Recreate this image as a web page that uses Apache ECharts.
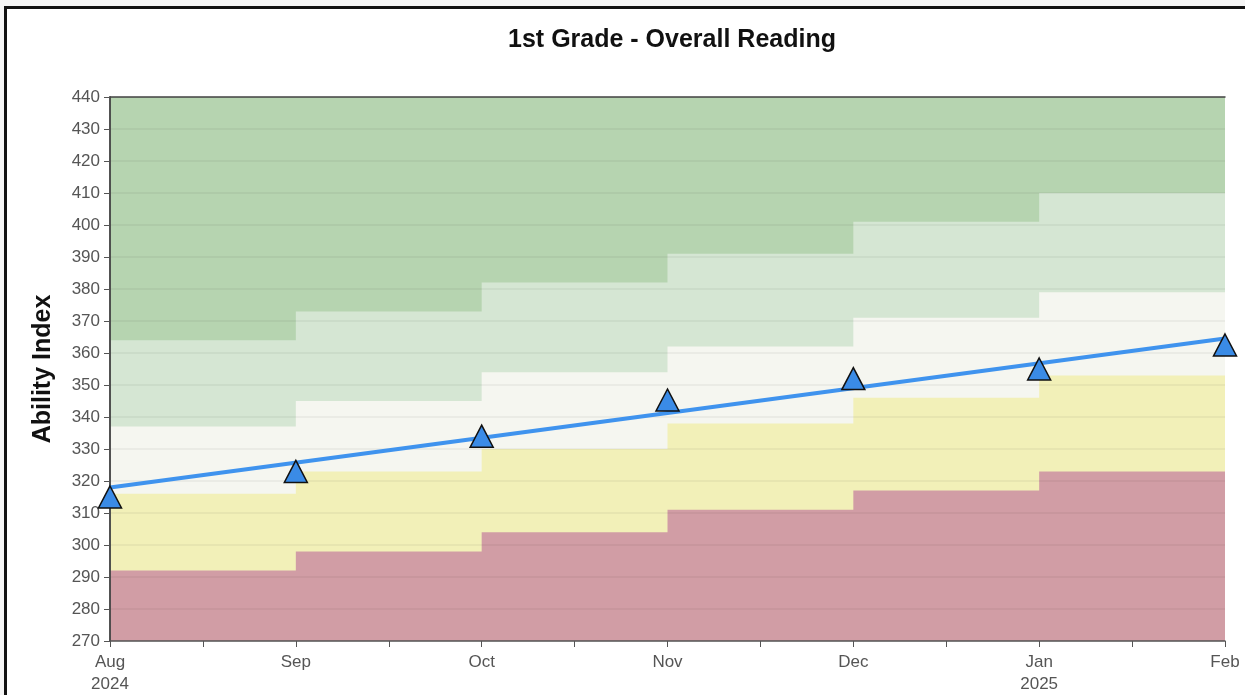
<!DOCTYPE html>
<html>
<head>
<meta charset="utf-8">
<script src="https://cdn.jsdelivr.net/npm/echarts@6/dist/echarts.min.js"></script>
<style>
html,body{margin:0;padding:0;background:#f4f4f4;}
#wrap{position:absolute;left:4px;top:6px;width:1260px;height:710px;border:3px solid #111;background:#fff;}
#chart{position:absolute;left:0;top:0;width:1245px;height:695px;}
</style>
</head>
<body>
<div id="wrap"></div>
<div id="chart"></div>
<script>
const titleText = '1st Grade - Overall Reading';
const yAxisTitle = 'Ability Index';
const months = ['Aug', 'Sep', 'Oct', 'Nov', 'Dec', 'Jan', 'Feb'];
const years = ['2024', '', '', '', '', '2025', ''];
// band top boundaries for each month interval (Aug-Sep ... Jan-Feb)
const redTop = [292, 298, 304, 311, 317, 323];
const yellowTop = [316, 323, 330, 338, 346, 353];
const whiteTop = [337, 345, 354, 362, 371, 379];
const lightGreenTop = [364, 373, 382, 391, 401, 410];
const yMin = 270, yMax = 440, yStep = 10;
const scores = [315, 323, 334, 345.3, 352, 355, 362.5];
const trendStart = 318, trendEnd = 364.5;

function stepData(arr) {
  const d = arr.map((v, i) => [i, v]);
  d.push([arr.length, arr[arr.length - 1]]);
  return d;
}
function band(name, arr, color) {
  return {
    name: name, type: 'line', step: 'end', data: stepData(arr),
    showSymbol: false, symbol: 'none', silent: true, z: 2,
    lineStyle: { width: 0, color: color },
    areaStyle: { color: color, opacity: 1, origin: 'start' }
  };
}
const FONT = 'Liberation Sans, Arial';

const chart = echarts.init(document.getElementById('chart'));
chart.setOption({
  animation: false,
  backgroundColor: 'transparent',
  title: {
    text: titleText, left: 667, top: 23, textAlign: 'center',
    textStyle: { fontFamily: FONT, fontSize: 25, fontWeight: 'bold', color: '#111' }
  },
  grid: { left: 110, right: 20, top: 97, bottom: 54, show: true, backgroundColor: '#b6d4b0', borderWidth: 0 },
  xAxis: [{
    type: 'value', min: 0, max: months.length - 1, interval: 0.5, z: 3,
    axisLine: { show: true, lineStyle: { color: '#555', width: 1.5 } },
    axisTick: { show: true, length: 6, lineStyle: { color: '#555' } },
    splitLine: { show: false },
    axisLabel: {
      color: '#555', fontFamily: FONT, fontSize: 17, lineHeight: 22, margin: 10,
      formatter: function (v) {
        if (Math.abs(v - Math.round(v)) > 1e-6) return '';
        const i = Math.round(v);
        return months[i] + (years[i] ? '\n' + years[i] : '');
      }
    }
  }, {
    type: 'value', position: 'top', min: 0, max: months.length - 1, z: 3,
    axisLine: { show: true, lineStyle: { color: '#444', width: 1.5 } },
    axisTick: { show: false }, axisLabel: { show: false }, splitLine: { show: false }
  }],
  yAxis: [{
    type: 'value', min: yMin, max: yMax, interval: yStep, z: 3,
    name: yAxisTitle, nameLocation: 'middle', nameGap: 54, nameRotate: 90,
    nameTextStyle: { fontFamily: FONT, fontSize: 25, fontWeight: 'bold', color: '#111' },
    axisLine: { show: true, lineStyle: { color: '#555', width: 1.5 } },
    axisTick: { show: true, length: 6, lineStyle: { color: '#555' } },
    axisLabel: { color: '#555', fontFamily: FONT, fontSize: 17, margin: 10 },
    splitLine: { show: true, lineStyle: { color: 'rgba(0,0,0,0.06)', width: 1.5 } }
  }, {
    type: 'value', position: 'right', min: yMin, max: yMax, z: 3,
    axisLine: { show: true, lineStyle: { color: '#444', width: 1.5 } },
    axisTick: { show: false }, axisLabel: { show: false }, splitLine: { show: false }
  }],
  series: [
    band('Above', lightGreenTop, '#d5e6d3'),
    band('Typical', whiteTop, '#f5f6f0'),
    band('Below', yellowTop, '#f2f0b8'),
    band('Well Below', redTop, '#d19da5'),
    {
      name: 'Trend', type: 'line', z: 5, symbol: 'none', silent: true,
      data: [[0, trendStart], [months.length - 1, trendEnd]],
      lineStyle: { color: '#3f93ee', width: 4 }
    },
    {
      name: 'Score', type: 'scatter', z: 6, symbol: 'triangle', symbolSize: [23, 22],
      data: scores.map((v, i) => [i, v]),
      itemStyle: { color: '#3a8be6', borderColor: '#111', borderWidth: 1.5, opacity: 1 }
    }
  ]
});
</script>
</body>
</html>
